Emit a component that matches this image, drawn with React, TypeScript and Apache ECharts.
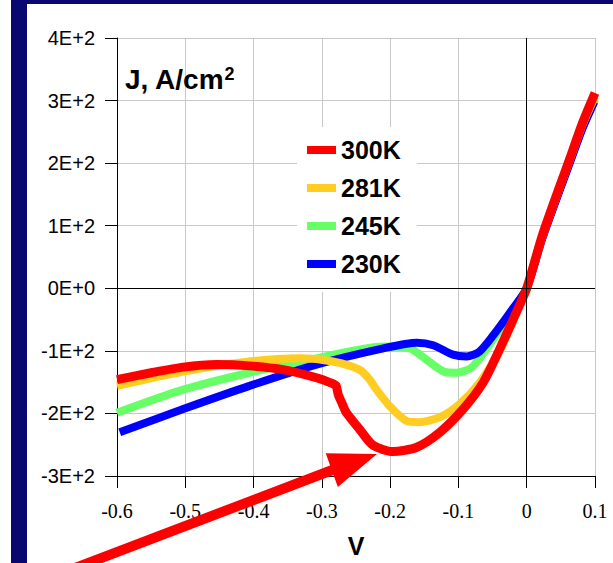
import React, { useEffect, useRef } from "react";
import * as echarts from "echarts";

// Voltage (V) and current density (A/cm2)
const v300 = [-0.6, -0.55, -0.503, -0.454, -0.406, -0.357, -0.308, -0.285, -0.279, -0.276, -0.27, -0.264, -0.245, -0.225, -0.196, -0.161, -0.127, -0.093, -0.064, -0.04, -0.02, 0, 0.023, 0.063, 0.082, 0.1];
const j300 = [-146, -135, -126, -122, -124, -130, -143, -152, -156, -170, -185, -199, -225, -251, -261, -254, -230, -193, -151, -98, -50, 0, 85, 207, 265, 312];

const v281 = [-0.6, -0.503, -0.406, -0.332, -0.284, -0.245, -0.23, -0.22, -0.201, -0.176, -0.157, -0.127, -0.098, -0.069, -0.04, -0.02, 0, 0.023, 0.063, 0.082, 0.1];
const j281 = [-156, -133, -117, -112, -117, -130, -146, -162, -188, -212, -214, -206, -185, -151, -101, -52, 0, 83, 205, 262, 306];

const v245 = [-0.6, -0.503, -0.406, -0.308, -0.21, -0.171, -0.147, -0.122, -0.103, -0.079, -0.04, -0.02, 0, 0.023, 0.063, 0.082, 0.1];
const j245 = [-199, -162, -135, -112, -93, -96, -114, -133, -135, -125, -67, -35, 0, 82, 202, 259, 302];

const v230 = [-0.596, -0.503, -0.406, -0.308, -0.21, -0.161, -0.137, -0.108, -0.088, -0.069, -0.04, -0.02, 0, 0.023, 0.063, 0.082, 0.099];
const j230 = [-230, -193, -156, -122, -96, -87, -91, -106, -109, -101, -62, -32, 0, 80, 200, 256, 298];

const seriesNames = ["300K", "281K", "245K", "230K"];
const seriesColors = ["#ff0000", "#ffcc22", "#66ff66", "#0000ff"];

const xTicks = [-0.6, -0.5, -0.4, -0.3, -0.2, -0.1, 0, 0.1];
const yTickLabels = ["-3E+2", "-2E+2", "-1E+2", "0E+0", "1E+2", "2E+2", "3E+2", "4E+2"];

const zip = (xs: number[], ys: number[]) => xs.map((x, i) => [x, ys[i]]);

const SANS = "'Liberation Sans', Arial, sans-serif";
const SERIF = "'Liberation Serif', 'Times New Roman', serif";

export default function App() {
  const ref = useRef<HTMLDivElement>(null);

  useEffect(() => {
    if (!ref.current) return;
    const chart = echarts.init(ref.current, null, { renderer: "svg" });

    const curves = [
      { name: "245K", data: zip(v245, j245), color: seriesColors[2], width: 8 },
      { name: "230K", data: zip(v230, j230), color: seriesColors[3], width: 8 },
      { name: "281K", data: zip(v281, j281), color: seriesColors[1], width: 8 },
      { name: "300K", data: zip(v300, j300), color: seriesColors[0], width: 9 },
    ];

    // arrow geometry (annotation)
    const tip = [377, 454];
    const ux = 0.942, uy = -0.336;
    const nx = 0.336, ny = 0.942;
    const headLen = 48, halfW = 18;
    const bc = [tip[0] - headLen * ux, tip[1] - headLen * uy];

    chart.setOption({
      animation: false,
      backgroundColor: "#ffffff",
      grid: { left: 117, right: 18, top: 38, bottom: 82, containLabel: false },
      legend: {
        data: seriesNames,
        orient: "vertical",
        left: 297,
        top: 127,
        padding: [8, 16, 13, 10],
        itemGap: 8,
        itemWidth: 29,
        itemHeight: 8,
        icon: "rect",
        backgroundColor: "#ffffff",
        textStyle: {
          fontFamily: SANS,
          fontSize: 25,
          fontWeight: "bold",
          color: "#000",
          lineHeight: 30,
        },
      },
      xAxis: {
        type: "value",
        min: -0.6,
        max: 0.1,
        interval: 0.1,
        name: "V",
        nameLocation: "middle",
        nameGap: 57,
        nameTextStyle: {
          fontFamily: SANS,
          fontSize: 25,
          fontWeight: "bold",
          color: "#000",
        },
        axisLine: { show: true, onZero: false, lineStyle: { color: "#000", width: 1 } },
        axisTick: { show: true, length: 12, lineStyle: { color: "#000" } },
        axisLabel: {
          margin: 25,
          fontFamily: SERIF,
          fontSize: 20,
          color: "#000",
          formatter: (v: number) => {
            const r = Math.round(v * 10) / 10;
            const idx = xTicks.findIndex((t) => Math.abs(t - r) < 1e-9);
            return idx >= 0 ? String(xTicks[idx]) : "";
          },
        },
        splitLine: { show: true, lineStyle: { color: "#c8c8c8", width: 1 } },
      },
      yAxis: {
        type: "value",
        min: -300,
        max: 400,
        interval: 100,
        axisLine: { show: true, onZero: false, lineStyle: { color: "#000", width: 1 } },
        axisTick: { show: true, length: 12, lineStyle: { color: "#000" } },
        axisLabel: {
          margin: 22,
          fontFamily: SANS,
          fontSize: 20,
          color: "#000",
          formatter: (v: number) => {
            const idx = Math.round((v + 300) / 100);
            return yTickLabels[idx] ?? "";
          },
        },
        splitLine: { show: true, lineStyle: { color: "#c8c8c8", width: 1 } },
      },
      series: [
        {
          type: "line",
          name: "__axes0",
          data: [],
          z: 1,
          silent: true,
          markLine: {
            silent: true,
            symbol: "none",
            label: { show: false },
            lineStyle: { color: "#000", width: 1, type: "solid" },
            data: [{ yAxis: 0 }, { xAxis: 0 }],
          },
        },
        ...curves.map((c) => ({
          type: "line",
          name: c.name,
          data: c.data,
          showSymbol: false,
          symbol: "none",
          smooth: 0.25,
          color: c.color,
          itemStyle: { color: c.color },
          lineStyle: { color: c.color, width: c.width, cap: "butt", join: "round" },
          z: 2,
        })),
      ],
      graphic: [
        { type: "rect", shape: { x: 11, y: 0, width: 16, height: 563 }, style: { fill: "#080870" }, z: 10 },
        { type: "rect", shape: { x: 11, y: 0, width: 602, height: 4 }, style: { fill: "#080870" }, z: 10 },
        {
          type: "text",
          left: 125,
          top: 65,
          z: 10,
          style: {
            text: "{a|J, A/cm}{b|2}",
            rich: {
              a: { fontFamily: SANS, fontSize: 28, fontWeight: "bold", fill: "#000" },
              b: { fontFamily: SANS, fontSize: 18, fontWeight: "bold", fill: "#000", verticalAlign: "top" },
            },
          },
        },
        {
          type: "line",
          z: 20,
          shape: { x1: 62, y1: 573, x2: bc[0] + 2 * ux, y2: bc[1] + 2 * uy },
          style: { stroke: "#ff0000", lineWidth: 10 },
        },
        {
          type: "polygon",
          z: 20,
          shape: {
            points: [
              [tip[0], tip[1]],
              [bc[0] - halfW * nx, bc[1] - halfW * ny],
              [bc[0] + halfW * nx, bc[1] + halfW * ny],
            ],
          },
          style: { fill: "#ff0000" },
        },
      ],
    });

    return () => chart.dispose();
  }, []);

  return (
    <div
      ref={ref}
      style={{ position: "fixed", left: 0, top: 0, width: 613, height: 563, background: "#fff" }}
    />
  );
}
